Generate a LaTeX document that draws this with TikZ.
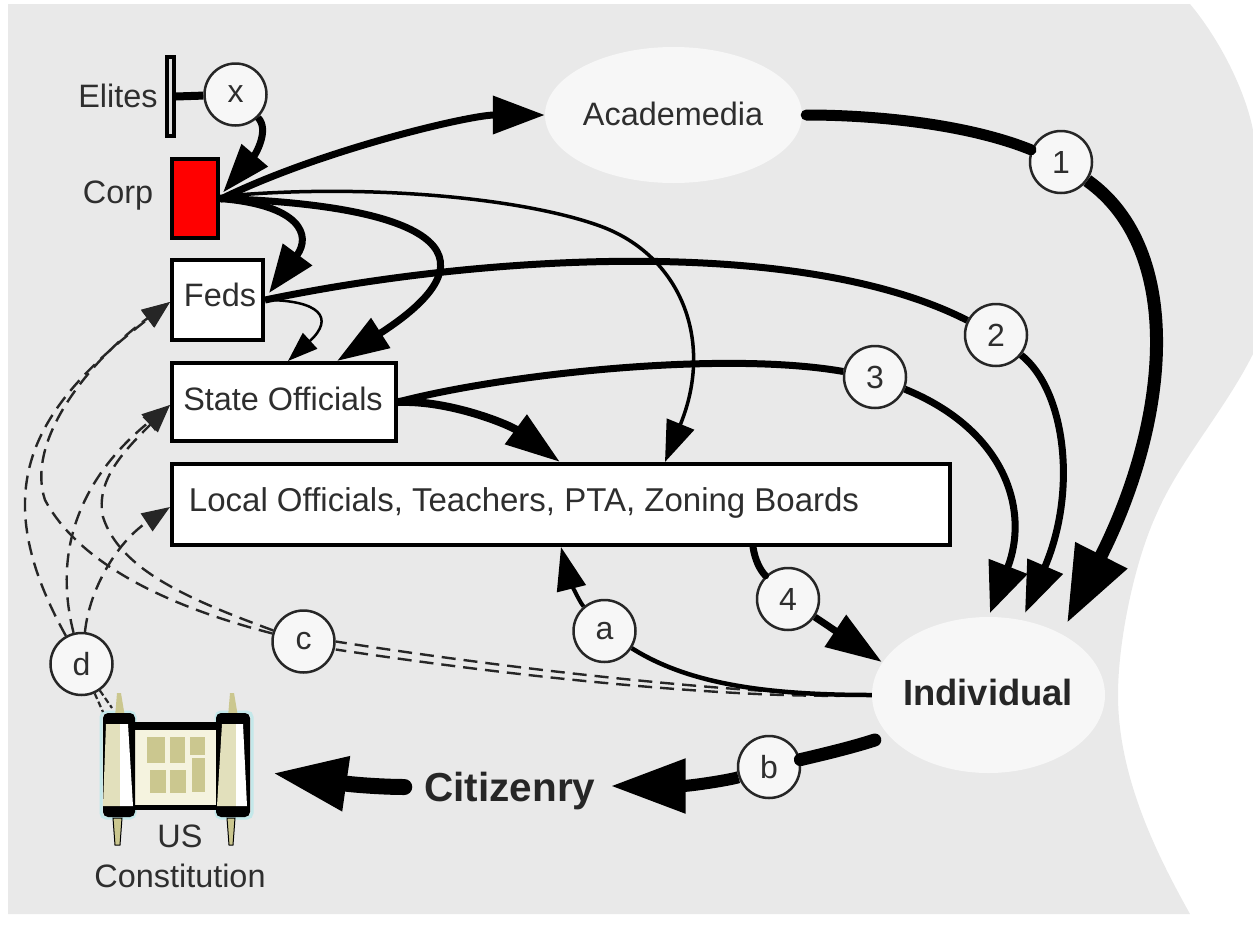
\documentclass[tikz,border=0pt]{standalone}
\usepackage{fontspec}
\setmainfont{Liberation Sans}
\usetikzlibrary{arrows.meta,shapes.geometric}
\definecolor{bggray}{HTML}{E9E9E9}
\definecolor{softw}{HTML}{F7F7F7}
\definecolor{inktext}{HTML}{2E2E2E}
\definecolor{creamA}{HTML}{F5F3DF}
\definecolor{oliveA}{HTML}{CBC78F}
\definecolor{oliveB}{HTML}{E2E0BC}
\definecolor{glow}{HTML}{C4E8EA}
\tikzset{
  lbl/.style={font=\fontsize{32.4}{36}\selectfont,text=inktext,inner sep=0pt},
  boldlbl/.style={font=\fontsize{36.4}{40}\selectfont\bfseries,text=black!85,inner sep=0pt},
  boxn/.style={draw=black,line width=4pt,fill=white,inner sep=0pt},
  badge/.style={circle,draw=black!85,line width=2.5pt,fill=softw,minimum size=62pt,inner sep=0pt,font=\fontsize{32}{36}\selectfont,text=inktext},
  cloud/.style={ellipse,fill=softw,inner sep=0pt},
  conn/.style={draw=black,line width=#1},
  tipped/.style 2 args={-{Triangle[length=#1pt,width=#2pt]}},
  dashline/.style={draw=black!85,line width=2.4pt,dash pattern=on 14pt off 8pt},
  shortdash/.style={draw=black!85,line width=2.2pt,dash pattern=on 6pt off 3pt},
}
\begin{document}
\begin{tikzpicture}[x=1pt,y=-1pt]
\useasboundingbox (0,0) rectangle (1253,924);
% ground
\fill[bggray] (8,4) -- (1190,4) .. controls (1220,40) and (1245,90) .. (1253,130) -- (1253,354)
  .. controls (1225,410) and (1180,460) .. (1157,513) .. controls (1135,560) and (1118,640) .. (1118,695)
  .. controls (1118,780) and (1160,860) .. (1190,914) -- (8,914) -- cycle;
% nodes
\node[cloud,minimum width=257pt,minimum height=136pt] (acad) at (673.5,115) {};
\node[lbl] (acadt) at (673,114) {Academedia};
\node[cloud,minimum width=233pt,minimum height=156pt] (ind) at (988.5,695) {};
\node[boldlbl] (indt) at (988,692) {Individual};
\node[draw=black,line width=4pt,fill=black!12,minimum width=7pt,minimum height=79pt,inner sep=0pt] (bar) at (170.5,96.5) {};
\node[lbl] (elites) at (118,96) {Elites};
\node[draw=black,line width=4pt,fill=red,minimum width=46pt,minimum height=79pt,inner sep=0pt] (corp) at (195,198.5) {};
\node[lbl] (corpt) at (118,196) {Corp};
\node[boxn,minimum width=91pt,minimum height=80pt] (feds) at (217.5,300) {};
\node[lbl] (fedst) at (220,295) {Feds};
\node[boxn,minimum width=224pt,minimum height=78pt] (state) at (284,402) {};
\node[lbl] (statet) at (283,399) {State Officials};
\node[boxn,minimum width=778pt,minimum height=81pt] (local) at (561,504.5) {};
\node[lbl,font=\fontsize{33}{36}\selectfont] (localt) at (524,503) {Local Officials, Teachers, PTA, Zoning Boards};
\node[badge] (x) at (235.5,94.5) {x};
\node[badge] (c1) at (1061,162) {1};
\node[badge] (c2) at (996,335) {2};
\node[badge] (c3) at (875,377) {3};
\node[badge] (c4) at (788,599) {4};
\node[badge] (ca) at (604.5,631) {a};
\node[badge] (cb) at (769,767) {b};
\node[badge] (cc) at (303.5,641.5) {c};
\node[badge] (cd) at (81.5,664) {d};
\node[font=\fontsize{40.5}{44}\selectfont\bfseries,text=black!85,inner sep=0pt] (cit) at (510,791) {Citizenry};
\node[lbl,align=center,font=\fontsize{32.4}{40}\selectfont] (const) at (180,856) {US\\Constitution};
% scroll
\coordinate (scrollR) at (272,773);
\coordinate (scrollA) at (103,712);
\coordinate (scrollB) at (112,708);
\draw[glow,line width=3pt,rounded corners=5pt] (101,712) rectangle (135,818);
\draw[glow,line width=3pt,rounded corners=5pt] (216,712) rectangle (252,818);
\fill[oliveA] (117,693) -- (121,693) -- (125,717) -- (115,717) -- cycle;
\fill[oliveA] (230,693) -- (234,693) -- (238,717) -- (228,717) -- cycle;
\fill[oliveA,draw=black,line width=1pt] (113,818) -- (122,818) -- (120,845) -- (115,845) -- cycle;
\fill[oliveA,draw=black,line width=1pt] (227,818) -- (235,818) -- (233,845) -- (229,845) -- cycle;
\fill[black] (130,722) rectangle (220,810);
\fill[creamA] (135,730) rectangle (216,805);
\foreach \xa/\ya/\xb/\yb in {147/737/165/763,170/737/185/763,190/737/205/755,192/758/205/792,150/770/166/793,170/770/186/793}
  \fill[oliveA] (\xa,\ya) rectangle (\xb,\yb);
\fill[black,rounded corners=5pt] (103,713) rectangle (135,817);
\fill[black,rounded corners=5pt] (216,713) rectangle (250,817);
\fill[oliveB] (106,724) -- (120,724) -- (120,806) -- (103,806) -- cycle;
\fill[white] (120,724) -- (128,724) -- (133,806) -- (120,806) -- cycle;
\fill[oliveB] (222,724) -- (236,724) -- (236,806) -- (217,806) -- cycle;
\fill[white] (236,724) -- (243,724) -- (247,806) -- (236,806) -- cycle;
% connectors
\draw[conn=8pt] (bar.east) -- (x);
\draw[conn=7pt,tipped={49}{33}] (x) .. controls (270,130) and (255,155) .. ([xshift=3pt,yshift=6pt]corp.east);
\draw[conn=7pt,tipped={52}{37}] ([yshift=-1pt]corp.east) .. controls (320,150) and (470,115) .. (acad.west);
\draw[conn=3.5pt,tipped={41}{29}] ([yshift=2pt]corp.east) .. controls (360,183) and (520,197) .. (600,226)
   .. controls (680,255) and (715,340) .. ([xshift=104pt]local.north);
\draw[conn=7pt,tipped={48}{35}] (corp.east) .. controls (300,205) and (312,235) .. ([xshift=4pt,yshift=7pt]feds.east);
\draw[conn=7pt,tipped={52}{34}] (corp.east) .. controls (420,205) and (510,250) .. ([xshift=53pt]state.north);
\draw[conn=2.5pt,tipped={30}{21}] (feds.east) .. controls (320,300) and (335,318) .. ([xshift=4pt]state.north);
\draw[conn=7pt] (feds.east) .. controls (480,255) and (800,235) .. (c2);
\draw[conn=7pt,tipped={51}{37}] (c2) .. controls (1065,390) and (1078,490) .. ([xshift=36.5pt,yshift=82pt]ind.center);
\draw[conn=7pt] (state.east) .. controls (500,375) and (720,350) .. (c3);
\draw[conn=7pt,tipped={50}{40}] (c3) .. controls (1005,430) and (1030,510) .. ([xshift=1.5pt,yshift=82pt]ind.center);
\draw[conn=8pt,tipped={55}{35}] (state.east) .. controls (450,400) and (510,425) .. ([xshift=-1pt]local.north);
\draw[conn=11pt,line cap=round] ([xshift=4pt]acad.east) .. controls (880,115) and (970,125) .. (c1);
\draw[conn=13pt,tipped={76}{55}] (c1) .. controls (1185,250) and (1170,420) .. ([xshift=78.5pt,yshift=72pt]ind.center);
\draw[conn=7pt,line cap=round] ([xshift=192pt]local.south) .. controls (755,560) and (760,570) .. (c4);
\draw[conn=7pt,tipped={56}{37}] (c4) -- ([xshift=10pt,yshift=33pt]ind.west);
\draw[dashline] (ind.west) .. controls (760,695) and (550,675) .. ([yshift=0pt]cc.east);
\draw[dashline] (ind.west) .. controls (760,700) and (550,682) .. ([yshift=-8pt]cc.east);
\draw[conn=4.5pt] (ind.west) .. controls (770,695) and (690,685) .. (ca);
\draw[conn=4pt,tipped={43}{29}] (ca) .. controls (578,600) and (568,575) .. (local.south);
\draw[conn=13pt,line cap=round] ([xshift=3pt,yshift=-45pt]ind.west) .. controls (850,748) and (820,755) .. (cb);
\draw[conn=12pt,tipped={75}{52}] (cb) .. controls (730,780) and (690,786) .. ([xshift=15pt,yshift=5pt]cit.east);
\draw[conn=16pt,line cap=round,tipped={75}{51}] ([xshift=-20pt,yshift=4pt]cit.west) .. controls (385,787) and (355,785) .. (scrollR);
\draw[dashline,tipped={28}{21}] (cd) .. controls (-15,490) and (30,410) .. ([yshift=-2pt]feds.west);
\draw[dashline,tipped={28}{21}] (cc) .. controls (170,607) and (80,565) .. (45,500) .. controls (25,440) and (90,360) .. ([yshift=-2pt]feds.west);
\draw[dashline,tipped={28}{21}] (cd) .. controls (50,540) and (90,470) .. ([yshift=-3pt]state.west);
\draw[dashline,tipped={28}{21}] (cc) .. controls (190,600) and (120,570) .. (103,517) .. controls (95,480) and (125,450) .. ([yshift=-3pt]state.west);
\draw[dashline,tipped={28}{21}] (cd) .. controls (90,585) and (120,540) .. ([yshift=-2.5pt]local.west);
\draw[shortdash] (cd) -- (scrollA);
\draw[shortdash] (cd) -- (scrollB);
\end{tikzpicture}
\end{document}
